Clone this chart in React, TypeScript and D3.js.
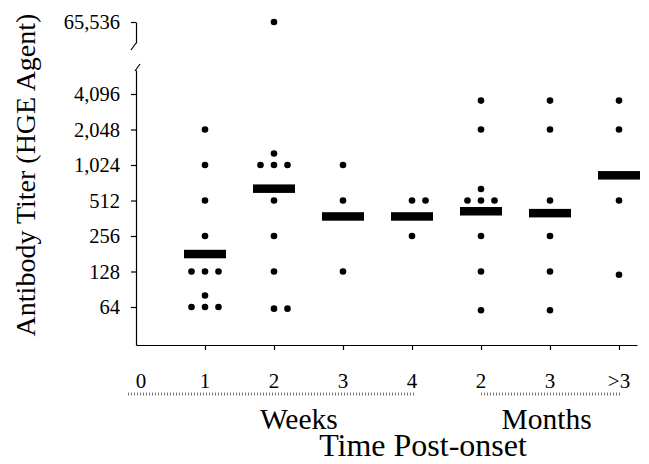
import { useEffect, useRef } from 'react';
import * as d3 from 'd3';

// x categories (index 0 is the origin, no data)
const categories = ['0', '1', '2', '3', '4', '2', '3', '>3'];
const groupLabels = ['Weeks', 'Months'];
const yTicks = [64, 128, 256, 512, 1024, 2048, 4096];
const yTopTicks = [65536];

// titers per time point (weeks 1-4, months 2, 3, >3)
const week1 = [2048, 1024, 512, 256, 128, 128, 128, 80, 64, 64, 64];
const week2 = [65536, 1280, 1024, 1024, 1024, 512, 256, 128, 62, 62];
const week3 = [1024, 512, 128];
const week4 = [512, 512, 256];
const month2 = [3600, 2048, 640, 512, 512, 512, 256, 128, 60];
const month3 = [3600, 2048, 512, 256, 128, 60];
const monthOver3 = [3600, 2048, 512, 120];
const medians = [180, 645, 375, 375, 415, 400, 837];

const W = 649;
const H = 464;
const FONT = '"Liberation Serif", "Times New Roman", serif';

export default function App() {
  const ref = useRef<SVGSVGElement>(null);

  useEffect(() => {
    const svg = d3.select(ref.current);
    svg.selectAll('*').remove();

    const series = [week1, week2, week3, week4, month2, month3, monthOver3];

    const x = d3.scaleLinear().domain([0, 7]).range([136, 619]);
    const y = d3.scaleLog().base(2).domain([64, 4096]).range([307, 94]);
    const octave = y(64) - y(128);
    const yTop = d3.scaleLog().base(2).domain([32768, 65536]).range([22 + octave, 22]);
    const baseY = 345;
    const breakLow = 70;
    const breakTop = 43;
    const jitter = 13.5;

    const g = svg.append('g');

    // lower y axis
    const yLow = y.copy().domain([y.invert(baseY), y.invert(breakLow)]).range([baseY, breakLow]);
    const yAxis = g.append('g')
      .attr('transform', 'translate(' + x(0) + ',0)')
      .call(d3.axisLeft(yLow).tickValues(yTicks).tickSize(5).tickSizeOuter(0).tickPadding(11).tickFormat(d3.format(',')));

    // upper y axis (break)
    const yUp = yTop.copy().domain([65536, yTop.invert(breakTop)]).range([22, breakTop]);
    const yAxisTop = g.append('g')
      .attr('transform', 'translate(' + x(0) + ',0)')
      .call(d3.axisLeft(yUp).tickValues(yTopTicks).tickSize(5).tickSizeOuter(0).tickPadding(11).tickFormat(d3.format(',')));

    [yAxis, yAxisTop].forEach(function (a) {
      a.attr('font-family', FONT).attr('font-size', 20.5);
      a.selectAll('text').attr('fill', '#000');
      a.selectAll('line,path').attr('stroke', '#000').attr('stroke-width', 1.2);
    });

    // break marks
    g.append('path')
      .attr('d', 'M' + x(0) + ',' + breakTop + 'L' + (x(0) - 5) + ',' + (breakTop + 7))
      .attr('stroke', '#000').attr('stroke-width', 1.2).attr('fill', 'none');
    g.append('path')
      .attr('d', 'M' + (x(0) - 1) + ',' + (breakLow + 1) + 'L' + (x(0) + 4) + ',' + (breakLow - 6))
      .attr('stroke', '#000').attr('stroke-width', 1.2).attr('fill', 'none');

    // x axis
    const xr = x.copy().domain([0, x.invert(637)]).range([x(0), 637]);
    const xAxis = g.append('g')
      .attr('transform', 'translate(0,' + baseY + ')')
      .call(d3.axisBottom(xr).tickValues([1, 2, 3, 4, 5, 6, 7]).tickSize(5).tickSizeOuter(0).tickFormat(function () { return ''; }));
    xAxis.selectAll('line,path').attr('stroke', '#000').attr('stroke-width', 1.2);

    // category labels
    g.selectAll('.cat')
      .data(categories)
      .join('text')
      .attr('class', 'cat')
      .attr('x', function (d, i) { return x(i) + (i === 0 ? 5 : 0); })
      .attr('y', 388)
      .attr('text-anchor', 'middle')
      .attr('font-family', FONT)
      .attr('font-size', 21)
      .text(function (d) { return d; });

    // ruler-like dotted spans
    const spans = [[x(0) - 8, x(4) + 2], [x(5), x(7) + 3]];
    spans.forEach(function (s) {
      g.append('line')
        .attr('x1', s[0]).attr('x2', s[1])
        .attr('y1', 394).attr('y2', 394)
        .attr('stroke', '#777')
        .attr('stroke-width', 3)
        .attr('stroke-dasharray', '1 2');
    });

    // group labels
    const groupX = [x(2.36), x(5.95)];
    groupLabels.forEach(function (l, i) {
      g.append('text')
        .attr('x', groupX[i]).attr('y', 429)
        .attr('text-anchor', 'middle')
        .attr('font-family', FONT)
        .attr('font-size', 29.5)
        .text(l);
    });

    g.append('text')
      .attr('x', x(4.16)).attr('y', 456)
      .attr('text-anchor', 'middle')
      .attr('font-family', FONT)
      .attr('font-size', 32)
      .text('Time Post-onset');

    g.append('text')
      .attr('transform', 'translate(35,175) rotate(-90)')
      .attr('text-anchor', 'middle')
      .attr('font-family', FONT)
      .attr('font-size', 28)
      .text('Antibody Titer (HGE Agent)');

    // dots, spread horizontally where values repeat
    const dots: { cx: number; cy: number }[] = [];
    series.forEach(function (vals, si) {
      const idx = si + 1;
      const counts = d3.rollup(vals, function (v) { return v.length; }, function (v) { return v; });
      const seen = new Map<number, number>();
      vals.forEach(function (v) {
        const n = counts.get(v) || 1;
        const k = seen.get(v) || 0;
        seen.set(v, k + 1);
        const off = (k - Math.floor((n - 1) / 2)) * jitter;
        const cy = v > 8192 ? yTop(v) : y(v);
        dots.push({ cx: x(idx) + off, cy: cy });
      });
    });

    g.selectAll('.dot')
      .data(dots)
      .join('circle')
      .attr('class', 'dot')
      .attr('cx', function (d) { return d.cx; })
      .attr('cy', function (d) { return d.cy; })
      .attr('r', 3.3)
      .attr('fill', '#000');

    // median bars
    g.selectAll('.median')
      .data(medians)
      .join('rect')
      .attr('class', 'median')
      .attr('x', function (d, i) { return x(i + 1) - 21; })
      .attr('y', function (d) { return y(d) - 4.25; })
      .attr('width', 42)
      .attr('height', 8.5)
      .attr('fill', '#000');
  }, []);

  return (
    <svg
      ref={ref}
      width={W}
      height={H}
      style={{ position: 'absolute', left: 0, top: 0, background: '#fff' }}
    />
  );
}
